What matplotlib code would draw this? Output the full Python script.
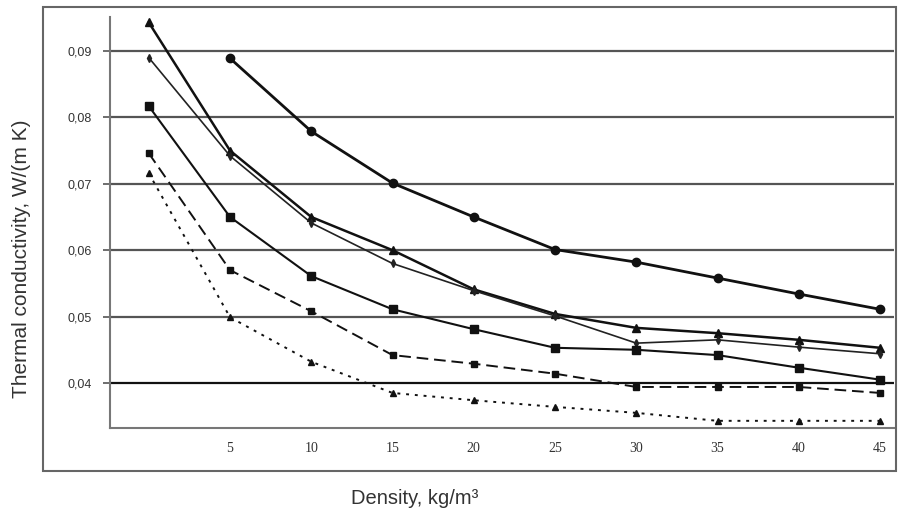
import numpy as np
import matplotlib
matplotlib.use("Agg")
import matplotlib.pyplot as plt
from matplotlib.patches import Rectangle

# density, kg/m3
density = [0, 5, 10, 15, 20, 25, 30, 35, 40, 45]

# thermal conductivity, W/(m K)
s_top = [np.nan, 0.0889, 0.0779, 0.0701, 0.0650, 0.0601, 0.0582, 0.0558, 0.0534, 0.0511]
s_tri = [0.0943, 0.0750, 0.0650, 0.0600, 0.0541, 0.0504, 0.0483, 0.0475, 0.0465, 0.0453]
s_thin = [0.0890, 0.0742, 0.0641, 0.0580, 0.0539, 0.0501, 0.0460, 0.0465, 0.0454, 0.0444]
s_sq = [0.0817, 0.0650, 0.0561, 0.0511, 0.0481, 0.0453, 0.0450, 0.0442, 0.0423, 0.0405]
s_dash = [0.0746, 0.0570, 0.0508, 0.0442, 0.0429, 0.0414, 0.0394, 0.0394, 0.0394, 0.0385]
s_dot = [0.0716, 0.0499, 0.0432, 0.0385, 0.0374, 0.0364, 0.0355, 0.0343, 0.0343, 0.0343]

yticks = [0.04, 0.05, 0.06, 0.07, 0.08, 0.09]
ytick_labels = ["0,04", "0,05", "0,06", "0,07", "0,08", "0,09"]
xticks = [5, 10, 15, 20, 25, 30, 35, 40, 45]

fig = plt.figure(figsize=(8.98, 5.21), dpi=100)
ax = fig.add_axes([110 / 898, 1 - 428 / 521, 784 / 898, 411 / 521])

# outer frame around the whole chart
fig.patches.append(Rectangle((43 / 898, 1 - 471 / 521), 853 / 898, 464 / 521,
                             transform=fig.transFigure, fill=False,
                             edgecolor="#666666", lw=1.5))

# horizontal grid
for yv in yticks:
    c = "#111111" if yv == 0.04 else "#555555"
    ax.axhline(yv, color=c, lw=1.6, zorder=1)

ax.plot(density, s_top, color="#111111", lw=2.0, marker="o", ms=6, zorder=3)
ax.plot(density, s_tri, color="#111111", lw=1.8, marker="^", ms=6, zorder=3)
ax.plot(density, s_thin, color="#222222", lw=1.2, marker="d", ms=4, zorder=3)
ax.plot(density, s_sq, color="#111111", lw=1.5, marker="s", ms=6, zorder=3)
ax.plot(density, s_dash, color="#111111", lw=1.4, ls=(0, (6, 3)), marker="s", ms=4, zorder=3)
ax.plot(density, s_dot, color="#111111", lw=1.4, ls=(0, (1.5, 3)), marker="^", ms=5, zorder=3)

ax.set_xlim(-2.385, 45.86)
ax.set_ylim(0.03322, 0.09512)

ax.set_yticks(yticks)
ax.set_yticklabels(ytick_labels, fontsize=9, family="Liberation Sans", color="#333333")
ax.set_xticks(xticks)
ax.set_xticklabels([str(v) for v in xticks], fontsize=10, family="Liberation Serif", color="#333333")
ax.tick_params(axis="x", length=0, pad=10)
ax.tick_params(axis="y", length=5, width=1.2, color="#555555", pad=8)

for side in ["top", "right"]:
    ax.spines[side].set_visible(False)
for side in ["left", "bottom"]:
    ax.spines[side].set_color("#777777")
    ax.spines[side].set_linewidth(1.5)

fig.text(22 / 898, 1 - 259 / 521, "Thermal conductivity, W/(m K)", rotation=90,
         ha="center", va="center", fontsize=15, family="Liberation Sans", color="#333333")
fig.text(415 / 898, 1 - 499 / 521, "Density, kg/m\u00b3",
         ha="center", va="center", fontsize=14.5, family="Liberation Sans", color="#333333")

fig.savefig("out.png", dpi=100)
